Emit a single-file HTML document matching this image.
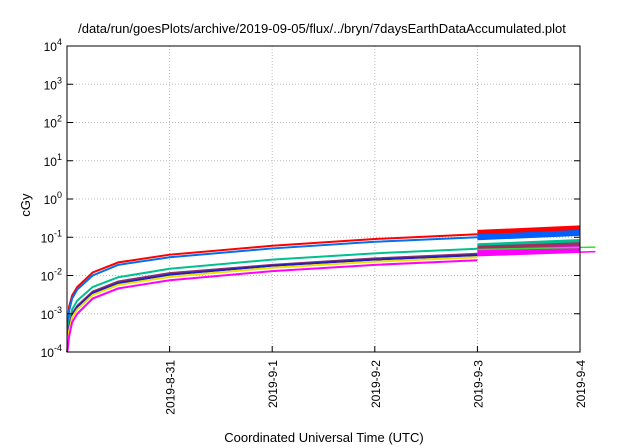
<!DOCTYPE html>
<html><head><meta charset="utf-8"><style>
body{margin:0;background:#fff;}
svg{display:block;font-family:"Liberation Sans",sans-serif;}
</style></head><body>
<svg id="chart" width="640" height="448" viewBox="0 0 640 448">
<text x="322" y="33" font-size="13" text-anchor="middle">/data/run/goesPlots/archive/2019-09-05/flux/../bryn/7daysEarthDataAccumulated.plot</text>
<g id="grid"></g><g id="series"></g><g id="axes"></g>
<text x="30" y="205" font-size="13" text-anchor="middle" transform="rotate(-90 30 205)">cGy</text>
<text x="324" y="442" font-size="13" text-anchor="middle">Coordinated Universal Time (UTC)</text>
</svg>
<script>
const xTickLabels=["2019-8-31","2019-9-1","2019-9-2","2019-9-3","2019-9-4"];
const xTickDays=[1,2,3,4,5];
const yTickExps=[-4,-3,-2,-1,0,1,2,3,4];
const days=[0.003,0.02,0.05,0.1,0.25,0.5,1,2,3,4];
const redVals=[1e-4,1.5e-3,3e-3,5e-3,1.2e-2,2.2e-2,0.035,0.06,0.09,0.12];
const blueVals=[1e-4,1.2e-3,2.5e-3,4.3e-3,1.0e-2,1.9e-2,0.03,0.051,0.076,0.1];
const tealVals=[1e-4,6e-4,1.3e-3,2.2e-3,5e-3,9e-3,0.015,0.026,0.038,0.05];
const purpleVals=[1e-4,4.5e-4,1e-3,1.6e-3,3.8e-3,7e-3,0.0115,0.019,0.028,0.037];
const navyVals=[1e-4,4e-4,9e-4,1.5e-3,3.5e-3,6.3e-3,0.0105,0.018,0.026,0.034];
const yellowVals=[1e-4,3.5e-4,8e-4,1.3e-3,3.1e-3,5.7e-3,0.0092,0.016,0.023,0.03];
const magentaVals=[1e-4,2.5e-4,6e-4,1e-3,2.5e-3,4.6e-3,0.0075,0.013,0.019,0.025];
const bandColors=["#ff0000","#0060ff","#00c090","#a03060","#ff00ff"];
const bandStart=[0.13,0.1,0.058,0.05,0.04];
const bandEnd=[0.17,0.13,0.075,0.062,0.05];
const X0=67,X1=580,Y0=352,Y1=46;
const xs=d=>X0+(X1-X0)*d/5;
const ys=v=>Y0-(Math.log10(v)+4)/8*(Y0-Y1);
const NS="http://www.w3.org/2000/svg";
function mk(p,t,a){const e=document.createElementNS(NS,t);for(const k in a)e.setAttribute(k,a[k]);p.appendChild(e);return e;}
const grid=document.getElementById('grid'),axes=document.getElementById('axes'),ser=document.getElementById('series');
xTickDays.forEach((d,i)=>{const x=xs(d);
 if(i<4){const g=mk(grid,'line',{x1:x,x2:x,y1:Y1,y2:Y0,stroke:'#bbb','stroke-dasharray':'1,2'});
 }
 const t=mk(axes,'line',{x1:x,x2:x,y1:Y0,y2:Y0-6,stroke:'#000'});
 
 const l=mk(axes,'text',{x:x+5,y:Y0+8,'font-size':12,'text-anchor':'end',transform:`rotate(-90 ${x+5} ${Y0+8})`});
 l.textContent=xTickLabels[i];
 });
yTickExps.forEach(e=>{const y=ys(Math.pow(10,e));
 if(e>-4&&e<4){const g=mk(grid,'line',{x1:X0,x2:X1,y1:y,y2:y,stroke:'#bbb','stroke-dasharray':'1,2'});
 }
 const t=mk(axes,'line',{x1:X0,x2:X0+6,y1:y,y2:y,stroke:'#000'});
 
 const t2=mk(axes,'line',{x1:X1,x2:X1-6,y1:y,y2:y,stroke:'#000'});
 
 const l=mk(axes,'text',{x:X0-5,y:y+5,'font-size':12,'text-anchor':'end'});
 l.innerHTML='10<tspan dy="-6" font-size="9">'+e+'</tspan>';
 });
const fr=mk(axes,'rect',{x:X0,y:Y1,width:X1-X0,height:Y0-Y1,fill:'none',stroke:'#000'});

const series=[["red",redVals,"#ff0000"],["blue",blueVals,"#0070f0"],["teal",tealVals,"#00c090"],["purple",purpleVals,"#8a3070"],["navy",navyVals,"#2020c0"],["yellow",yellowVals,"#f0e000"],["magenta",magentaVals,"#ff00ff"]];
series.forEach(([n,vals,c])=>{const pts=days.map((d,i)=>xs(d)+','+ys(vals[i])).join(' ');
 const p=mk(ser,'polyline',{points:pts,fill:'none',stroke:c,'stroke-width':2});
 });
bandColors.forEach((c,i)=>{const xa=xs(4),xb=xs(5),ya=ys(bandStart[i]),yb=ys(bandEnd[i]);
 const p=mk(ser,'polygon',{points:`${xa},${ya-3} ${xb},${yb-3} ${xb},${yb+3} ${xa},${ya+3}`,fill:c});
 });
const g1=mk(ser,'line',{x1:xs(4),y1:ys(0.048),x2:xs(5.15),y2:ys(0.055),stroke:'#30e030','stroke-width':1.5});

const m1=mk(ser,'line',{x1:xs(4),y1:ys(0.033),x2:xs(5.15),y2:ys(0.042),stroke:'#ff00ff','stroke-width':1.5});

</script>
</body></html>
